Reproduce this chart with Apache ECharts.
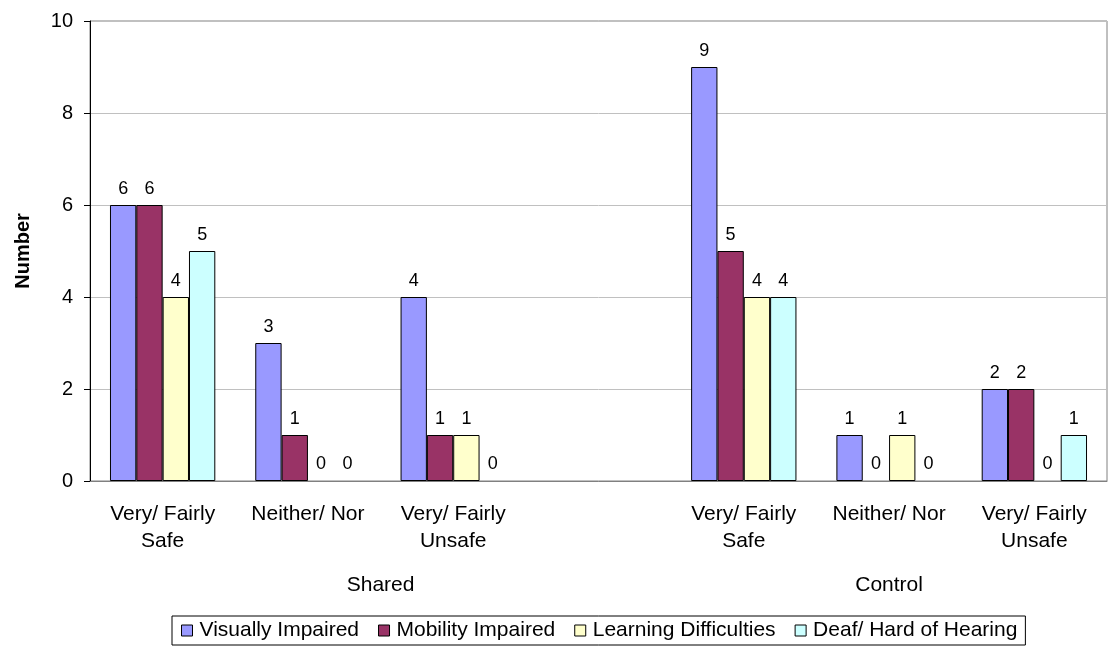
<!DOCTYPE html>
<html>
<head>
<meta charset="utf-8">
<script src="https://cdn.jsdelivr.net/npm/echarts@6/dist/echarts.min.js"></script>
<style>html,body{margin:0;padding:0;background:#fff;}#chart{width:1112px;height:647px;}</style>
</head>
<body>
<div id="chart"></div>
<script>
const categories = ['Very/ Fairly\nSafe', 'Neither/ Nor', 'Very/ Fairly\nUnsafe', '', 'Very/ Fairly\nSafe', 'Neither/ Nor', 'Very/ Fairly\nUnsafe'];
const groupLabels = [{ pos: 2, text: 'Shared' }, { pos: 5.5, text: 'Control' }];
const seriesNames = ['Visually Impaired', 'Mobility Impaired', 'Learning Difficulties', 'Deaf/ Hard of Hearing'];
const visuallyImpaired = [6, 3, 4, '-', 9, 1, 2];
const mobilityImpaired = [6, 1, 1, '-', 5, 0, 2];
const learningDifficulties = [4, 0, 1, '-', 4, 1, 0];
const deafHardOfHearing = [5, 0, 0, '-', 4, 0, 1];
const yTicks = [0, 2, 4, 6, 8, 10];
const colors = ['#9999FF', '#993366', '#FFFFCC', '#CCFFFF'];

const FONT = 'Liberation Sans, Arial, sans-serif';
const allData = [visuallyImpaired, mobilityImpaired, learningDifficulties, deafHardOfHearing];

const chart = echarts.init(document.getElementById('chart'), null, { renderer: 'canvas' });
chart.setOption({
  animation: false,
  backgroundColor: '#fff',
  color: colors,
  textStyle: { fontFamily: FONT, color: '#000' },
  grid: { left: 90, right: 5, top: 21, bottom: 166, show: true, borderColor: '#808080', borderWidth: 1, containLabel: false, outerBoundsMode: 'none' },
  legend: {
    data: seriesNames,
    left: 172, top: 616,
    padding: [4, 8, 4, 9],
    itemWidth: 11, itemHeight: 11, itemGap: 19,
    icon: 'rect',
    borderColor: '#000', borderWidth: 1,
    textStyle: { fontSize: 21, fontFamily: FONT, color: '#000', padding: [0, 0, 0, 2] },
    itemStyle: { borderColor: '#000', borderWidth: 1 }
  },
  xAxis: [{
    type: 'category',
    data: categories,
    axisLine: { lineStyle: { color: '#808080', width: 1 } },
    axisTick: { show: false },
    axisLabel: { fontSize: 21, fontFamily: FONT, color: '#000', margin: 20, lineHeight: 27, interval: 0 },
    splitLine: { show: false }
  }, {
    type: 'value',
    position: 'bottom',
    min: 0, max: 7, interval: 0.5,
    offset: 94,
    axisLine: { show: false },
    axisTick: { show: false },
    splitLine: { show: false },
    axisLabel: {
      fontSize: 21, fontFamily: FONT, color: '#000', margin: 0, hideOverlap: false,
      formatter: function (v) {
        const g = groupLabels.find(function (x) { return Math.abs(x.pos - v) < 1e-6; });
        return g ? g.text : '';
      }
    }
  }],
  yAxis: {
    type: 'value',
    min: yTicks[0], max: yTicks[yTicks.length - 1], interval: 2,
    name: 'Number',
    nameLocation: 'middle',
    nameGap: 57,
    nameTextStyle: { fontSize: 20, fontWeight: 'bold', fontFamily: FONT, color: '#000' },
    axisLine: { show: true, lineStyle: { color: '#000', width: 1 } },
    axisTick: { show: true, length: 6, lineStyle: { color: '#000' } },
    axisLabel: { fontSize: 20, fontFamily: FONT, color: '#000', margin: 17 },
    splitLine: { show: true, lineStyle: { color: '#c0c0c0', width: 1 } }
  },
  series: seriesNames.map(function (name, i) {
    return {
      name: name,
      type: 'bar',
      xAxisIndex: 0,
      barGap: '0%',
      barCategoryGap: '27.5%',
      itemStyle: { color: colors[i], borderColor: '#000', borderWidth: 1 },
      label: { show: true, position: 'top', distance: 7, fontSize: 18, fontFamily: FONT, color: '#000' },
      data: allData[i].map(function (v) {
        return v === 0 ? { value: v, itemStyle: { borderColor: 'rgba(0,0,0,0)', color: 'rgba(0,0,0,0)' } } : v;
      })
    };
  })
});
</script>
</body>
</html>
